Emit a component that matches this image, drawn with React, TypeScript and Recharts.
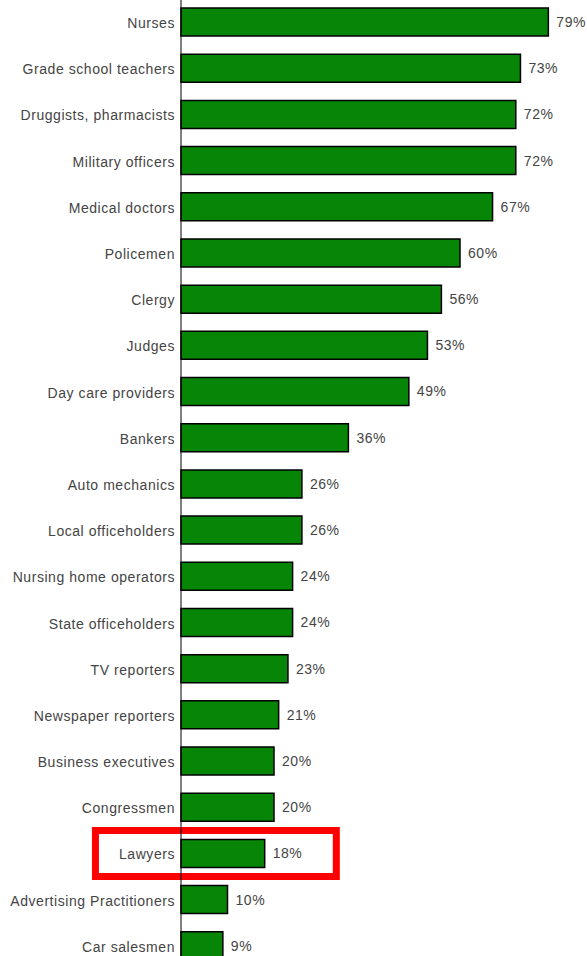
import { BarChart, Bar, XAxis, YAxis, LabelList, ReferenceArea } from 'recharts';

const CATEGORIES = [
    'Nurses',
    'Grade school teachers',
    'Druggists, pharmacists',
    'Military officers',
    'Medical doctors',
    'Policemen',
    'Clergy',
    'Judges',
    'Day care providers',
    'Bankers',
    'Auto mechanics',
    'Local officeholders',
    'Nursing home operators',
    'State officeholders',
    'TV reporters',
    'Newspaper reporters',
    'Business executives',
    'Congressmen',
    'Lawyers',
    'Advertising Practitioners',
    'Car salesmen',
];

const VALUES = [79, 73, 72, 72, 67, 60, 56, 53, 49, 36, 26, 26, 24, 24, 23, 21, 20, 20, 18, 10, 9];

const HIGHLIGHT = 'Lawyers';

const data = CATEGORIES.map((name, i) => ({ name, value: VALUES[i] }));

const textStyle = {
    fill: '#444',
    fontSize: 14,
    fontFamily: 'Liberation Sans, Arial, sans-serif',
    letterSpacing: 0.55,
};

export default function App() {
    return (
        <div style={{ position: 'absolute', left: 0, top: -1, width: 587, height: 975, background: '#fff' }}>
            <BarChart
                width={587}
                height={975}
                data={data}
                layout="vertical"
                margin={{ top: 0, right: 34, bottom: 5, left: 0 }}
            >
                <XAxis type="number" domain={[0, 80]} hide />
                <YAxis
                    type="category"
                    dataKey="name"
                    width={181}
                    tickLine={false}
                    tickMargin={0}
                    axisLine={{ stroke: '#000', strokeWidth: 1 }}
                    interval={0}
                    tick={{ ...textStyle, dy: 1 }}
                />
                <Bar
                    dataKey="value"
                    fill="#078507"
                    stroke="#000"
                    strokeWidth={1.5}
                    barSize={28}
                    isAnimationActive={false}
                >
                    <LabelList
                        dataKey="value"
                        position="right"
                        offset={8}
                        formatter={(v: number) => `${v}%`}
                        style={textStyle}
                    />
                </Bar>
                <ReferenceArea
                    y1={HIGHLIGHT}
                    y2={HIGHLIGHT}
                    x1={-18.4}
                    x2={33.4}
                    ifOverflow="visible"
                    fill="none"
                    stroke="#ff0000"
                    strokeWidth={7}
                    fillOpacity={0}
                />
            </BarChart>
        </div>
    );
}
